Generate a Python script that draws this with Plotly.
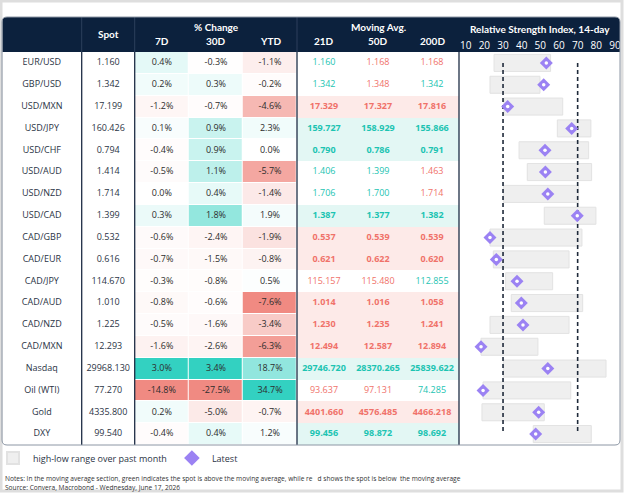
import plotly.graph_objects as go

# ---- data ----
labels = ["EUR/USD", "GBP/USD", "USD/MXN", "USD/JPY", "USD/CHF", "USD/AUD", "USD/NZD", "USD/CAD",
          "CAD/GBP", "CAD/EUR", "CAD/JPY", "CAD/AUD", "CAD/NZD", "CAD/MXN", "Nasdaq", "Oil (WTI)",
          "Gold", "DXY"]
spot = [1.160, 1.342, 17.199, 160.426, 0.794, 1.414, 1.714, 1.399, 0.532, 0.616, 114.670, 1.010,
        1.225, 12.293, 29968.130, 77.270, 4335.800, 99.540]
chg_7d = [0.4, 0.2, -1.2, 0.1, -0.4, -0.5, 0.0, 0.3, -0.6, -0.7, -0.3, -0.8, -0.5, -1.6, 3.0, -14.8, 0.2, -0.4]
chg_30d = [-0.3, 0.3, -0.7, 0.9, 0.9, 1.1, 0.4, 1.8, -2.4, -1.5, -0.8, -0.6, -1.6, -2.6, 3.4, -27.5, -5.0, 0.4]
chg_ytd = [-1.1, -0.2, -4.6, 2.3, 0.0, -5.7, -1.4, 1.9, -1.9, -0.8, 0.5, -7.6, -3.4, -6.3, 18.7, 34.7, -0.7, 1.2]
ma_21 = [1.160, 1.342, 17.329, 159.727, 0.790, 1.406, 1.706, 1.387, 0.537, 0.621, 115.157, 1.014,
         1.230, 12.494, 29746.720, 93.637, 4401.660, 99.456]
ma_50 = [1.168, 1.348, 17.327, 158.929, 0.786, 1.399, 1.700, 1.377, 0.539, 0.622, 115.480, 1.016,
         1.235, 12.587, 28370.265, 97.131, 4576.485, 98.872]
ma_200 = [1.168, 1.342, 17.816, 155.866, 0.791, 1.463, 1.714, 1.382, 0.539, 0.620, 112.855, 1.058,
          1.241, 12.894, 25839.622, 74.285, 4466.218, 98.692]
# 1 = spot above the moving average (green), 0 = below (red)
above_21 = [1, 1, 0, 1, 1, 1, 1, 1, 0, 0, 0, 0, 0, 0, 1, 0, 0, 1]
above_50 = [0, 0, 0, 1, 1, 1, 1, 1, 0, 0, 0, 0, 0, 0, 1, 0, 0, 1]
above_200 = [0, 1, 0, 1, 1, 0, 0, 1, 0, 0, 1, 0, 0, 0, 1, 1, 0, 1]
rsi_low = [25.2, 23.0, 30.5, 59.1, 38.6, 43.0, 30.2, 52.1, 23.0, 24.8, 31.4, 34.4, 23.0, 18.2, 30.2, 19.3, 18.7, 46.2]
rsi_high = [55.5, 49.8, 62.0, 77.1, 75.9, 77.5, 70.5, 79.8, 72.3, 65.4, 56.6, 72.7, 65.4, 48.7, 85.2, 66.3, 52.1, 77.3]
rsi_latest = [53.2, 51.8, 32.5, 66.8, 52.5, 52.7, 54.0, 69.8, 23.0, 26.4, 37.5, 39.8, 40.7, 18.2, 54.0, 19.3, 49.1, 47.5]
rsi_ticks = [10, 20, 30, 40, 50, 60, 70, 80, 90]
rsi_bands = [30, 70]

# ---- layout helpers ----
W, H = 625, 495
ML, MR, MT, MB = 2, 5, 52, 50
PW, PH = W - ML - MR, H - MT - MB
FONT = "Open Sans"
HFONT = "Lato"
NAVY = "#0c213d"
GREEN, RED = "#1cc4b2", "#f0726a"

edges = [0, 79.7, 132.7, 187, 241, 295, 349, 403, 457]
centers = [(a + b) / 2 for a, b in zip(edges[:-1], edges[1:])]
split = edges[-1] / PW


def py(p):  # pixel row -> paper y
    return (H - MB - p) / PH


def px(p):  # pixel column -> paper x
    return (p - ML) / PW


fig = go.Figure()

# % change heat cells, each column scaled by its own max gain / max loss
cols = [chg_7d, chg_30d, chg_ytd]
z = []
for i in range(len(labels)):
    row = []
    for c in cols:
        v = c[i]
        top = max(c) if v >= 0 else -min(c)
        row.append(v / top if top else 0)
    z.append(row)
fig.add_trace(go.Heatmap(x=edges[2:6], y=labels, z=z, zmin=-1, zmax=1,
                         colorscale=[[0, "#f08a82"], [0.5, "#ffffff"], [1, "#33d1c1"]],
                         xgap=1, ygap=1, showscale=False, hoverinfo="skip"))

# moving average row shading
flags = list(zip(above_21, above_50, above_200))
ma_bg = [[1 if sum(f) == 3 else (-1 if sum(f) == 0 else 0)] for f in flags]
fig.add_trace(go.Heatmap(x=[edges[5], edges[8]], y=labels, z=ma_bg, zmin=-1, zmax=1,
                         colorscale=[[0, "#fdeae8"], [0.5, "#ffffff"], [1, "#e3f7f4"]],
                         showscale=False, hoverinfo="skip"))

# table text
def add_text(xc, texts, colors, size=9):
    fig.add_trace(go.Scatter(x=[xc] * len(labels), y=labels, mode="text", text=texts,
                             textfont=dict(family=FONT, size=size, color=colors),
                             showlegend=False, hoverinfo="skip"))


add_text(centers[0], labels, "#2b3445")
add_text(centers[1], [f"{v:.3f}" for v in spot], "#2b3445")
for k, c in enumerate(cols):
    add_text(centers[2 + k], [f"{v:.1f}%" for v in c], "#2d2d2d")
for k, (ma, ab) in enumerate([(ma_21, above_21), (ma_50, above_50), (ma_200, above_200)]):
    txt, clr = [], []
    for i, v in enumerate(ma):
        s = f"{v:.3f}"
        if sum(flags[i]) in (0, 3):
            s = f"<b>{s}</b>"
        txt.append(s)
        clr.append(GREEN if ab[i] else RED)
    add_text(centers[5 + k], txt, clr)

# RSI panel
fig.add_trace(go.Bar(y=labels, x=[h - l for l, h in zip(rsi_low, rsi_high)], base=rsi_low,
                     orientation="h", width=0.78, xaxis="x2",
                     marker=dict(color="#efefef", line=dict(color="#e2e2e2", width=1)),
                     name="high-low range over past month", hoverinfo="skip"))
for b in rsi_bands:
    fig.add_trace(go.Scatter(x=[b, b], y=[labels[0], labels[-1]], mode="lines", xaxis="x2",
                             line=dict(color="#1f2a3a", width=1.6, dash="4px,3px"),
                             showlegend=False, hoverinfo="skip"))
fig.add_trace(go.Scatter(x=rsi_latest, y=labels, mode="markers", xaxis="x2", name="Latest",
                         marker=dict(symbol="diamond", size=10, color="#9b82f3")))
fig.add_trace(go.Scatter(x=rsi_latest, y=labels, mode="markers", xaxis="x2", showlegend=False,
                         marker=dict(symbol="circle", size=3.5, color="white"), hoverinfo="skip"))

# ---- decoration ----
shapes = []
y_top = py(17)
rx, ry = 5 / PW, 5 / PH
shapes.append(dict(type="path", xref="paper", yref="paper", fillcolor=NAVY, line=dict(width=0),
                   layer="below",
                   path=f"M 0,1 L 0,{y_top - ry} Q 0,{y_top} {rx},{y_top} L {1 - rx},{y_top} "
                        f"Q 1,{y_top} 1,{y_top - ry} L 1,1 Z"))
for e in [edges[1], edges[2], edges[5]]:
    shapes.append(dict(type="line", xref="x", yref="paper", x0=e, x1=e, y0=0, y1=1,
                       line=dict(color="#1e2d45", width=1.3), layer="above"))
    shapes.append(dict(type="line", xref="x", yref="paper", x0=e, x1=e, y0=1, y1=y_top,
                       line=dict(color="#2c3f5c", width=1), layer="below"))
shapes.append(dict(type="line", xref="paper", yref="paper", x0=split, x1=split, y0=0, y1=1,
                   line=dict(color="#1e2d45", width=1.3), layer="above"))
# table frame
shapes.append(dict(type="path", xref="paper", yref="paper", line=dict(color="#8c96a4", width=1),
                   layer="above",
                   path=f"M 0,{ry} L 0,{y_top - ry} Q 0,{y_top} {rx},{y_top} L {1 - rx},{y_top} "
                        f"Q 1,{y_top} 1,{y_top - ry} L 1,{ry} Q 1,0 {1 - rx},0 L {rx},0 Q 0,0 0,{ry} Z"))
# outer card border
shapes.append(dict(type="rect", xref="paper", yref="paper", x0=px(1), x1=px(622), y0=py(1), y1=py(491),
                   line=dict(color="#dedede", width=3), layer="below"))

ann = []


def head(text, x, y, xref="x", size=10):
    ann.append(dict(text=f"<b>{text}</b>", x=x, y=py(y), xref=xref, yref="paper", showarrow=False,
                    font=dict(family=HFONT, size=size, color="white"), xanchor="center", yanchor="middle"))


head("Spot", centers[1], 34)
head("% Change", centers[3], 27)
head("Moving Avg.", centers[6], 27)
for k, t in enumerate(["7D", "30D", "YTD", "21D", "50D", "200D"]):
    head(t, centers[2 + k], 41)
head("Relative Strength Index, 14-day", px(540), 29, xref="paper")

ann.append(dict(text="Notes: In the moving average section, green indicates the spot is above the moving average, "
                     "while re&nbsp;&nbsp;&nbsp;d shows the spot is below&nbsp;&nbsp;the moving average",
                x=px(3), y=py(478), xref="paper", yref="paper", showarrow=False, xanchor="left",
                yanchor="middle", font=dict(family=FONT, size=6.6, color="#333333")))
ann.append(dict(text="Source: Convera, Macrobond - Wednesday, June 17, 2026",
                x=px(3), y=py(487), xref="paper", yref="paper", showarrow=False, xanchor="left",
                yanchor="middle", font=dict(family=FONT, size=6.6, color="#333333")))

fig.update_layout(
    width=W, height=H,
    margin=dict(l=ML, r=MR, t=MT, b=MB, autoexpand=False),
    paper_bgcolor="white", plot_bgcolor="white",
    font=dict(family=FONT, color="#2b3445"),
    xaxis=dict(domain=[0, split], range=[0, edges[-1]], visible=False, fixedrange=True),
    xaxis2=dict(domain=[split, 1], range=[6.4, 92.7], anchor="y", side="top", tickvals=rsi_ticks,
                ticks="", showgrid=False, zeroline=False, showline=False,
                tickfont=dict(family=FONT, size=10, color="white"), fixedrange=True),
    yaxis=dict(type="category", categoryorder="array", categoryarray=labels, range=[17.5, -0.5],
               visible=False, fixedrange=True),
    showlegend=True,
    legend=dict(orientation="h", x=px(-7), y=py(458), xanchor="left", yanchor="middle",
                font=dict(family=FONT, size=9, color="#2b3445"), bgcolor="rgba(0,0,0,0)",
                itemsizing="constant", traceorder="normal", itemwidth=30),
    shapes=shapes, annotations=ann,
)

fig.write_html("out.html", config={"displayModeBar": False},
               post_script="document.body.style.margin='0';")
